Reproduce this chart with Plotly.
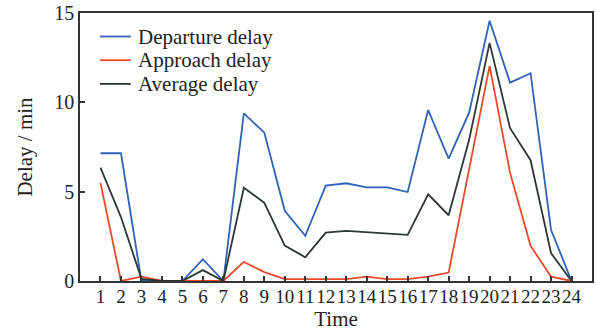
import plotly.graph_objects as go

# Hourly delay profile (minutes)
hours = list(range(1, 25))
departure_delay = [7.15, 7.15, 0.0, 0.0, 0.0, 1.22, 0.0, 9.38, 8.30, 3.93, 2.53, 5.34,
                   5.47, 5.24, 5.24, 4.98, 9.57, 6.85, 9.42, 14.57, 11.10, 11.63, 2.87, 0.0]
approach_delay = [5.49, 0.0, 0.24, 0.0, 0.0, 0.0, 0.0, 1.07, 0.50, 0.10, 0.10, 0.10,
                  0.10, 0.24, 0.10, 0.10, 0.24, 0.47, 6.30, 12.04, 6.05, 1.97, 0.24, 0.0]
average_delay = [6.35, 3.58, 0.12, 0.0, 0.0, 0.61, 0.0, 5.22, 4.38, 1.98, 1.33, 2.71,
                 2.81, 2.74, 2.68, 2.58, 4.85, 3.68, 7.90, 13.33, 8.55, 6.76, 1.56, 0.0]
y_ticks = [0, 5, 10, 15]

series = [
    ("Departure delay", departure_delay, "#2f62b8"),
    ("Approach delay", approach_delay, "#ec4a2a"),
    ("Average delay", average_delay, "#2c3733"),
]

font_family = "Liberation Serif"
axis_color = "#333333"
W, H = 596, 331
M = dict(l=80, r=2, t=13, b=50)
plot_w = W - M["l"] - M["r"]
plot_h = H - M["t"] - M["b"]

fig = go.Figure()
for name, vals, color in series:
    fig.add_trace(go.Scatter(x=hours, y=vals, mode="lines", name=name,
                             line=dict(color=color, width=1.8), showlegend=False))

# Compact legend: short line sample plus label for each series
def px_to_paper(px, py):
    return (px - M["l"]) / plot_w, (H - M["b"] - py) / plot_h

shapes, annotations = [], []
for i, (name, _, color) in enumerate(series):
    row_y = 36.5 + i * 23.7
    x0, y0 = px_to_paper(100, row_y)
    x1, _ = px_to_paper(131, row_y)
    xt, _ = px_to_paper(136, row_y)
    shapes.append(dict(type="line", xref="paper", yref="paper", x0=x0, x1=x1, y0=y0, y1=y0,
                       line=dict(color=color, width=1.8)))
    annotations.append(dict(text=name, xref="paper", yref="paper", x=xt, y=y0,
                            xanchor="left", yanchor="middle", showarrow=False,
                            font=dict(family=font_family, size=21, color="#222222")))

fig.update_layout(
    width=W, height=H,
    margin=M,
    paper_bgcolor="white", plot_bgcolor="white",
    font=dict(family=font_family, size=20, color="#222222"),
    showlegend=False,
    shapes=shapes, annotations=annotations,
)
fig.update_xaxes(
    range=[0, 25], tickmode="array", tickvals=hours, ticktext=[str(h) for h in hours],
    tickangle=0, ticks="inside", ticklen=5, tickwidth=1.5, tickcolor=axis_color,
    showline=True, linecolor=axis_color, linewidth=1.6, mirror=True,
    showgrid=False, zeroline=False, ticklabelstandoff=-3,
    title=dict(text="Time", standoff=4, font=dict(size=21)),
    tickfont=dict(size=19),
)
fig.update_yaxes(
    range=[0, 15], tickmode="array", tickvals=y_ticks,
    ticks="inside", ticklen=5, tickwidth=1.5, tickcolor=axis_color,
    showline=True, linecolor=axis_color, linewidth=1.6, mirror=True,
    showgrid=False, zeroline=False,
    title=dict(text="Delay / min", standoff=16, font=dict(size=21)),
    tickfont=dict(size=20),
)

fig.write_html("out.html")
